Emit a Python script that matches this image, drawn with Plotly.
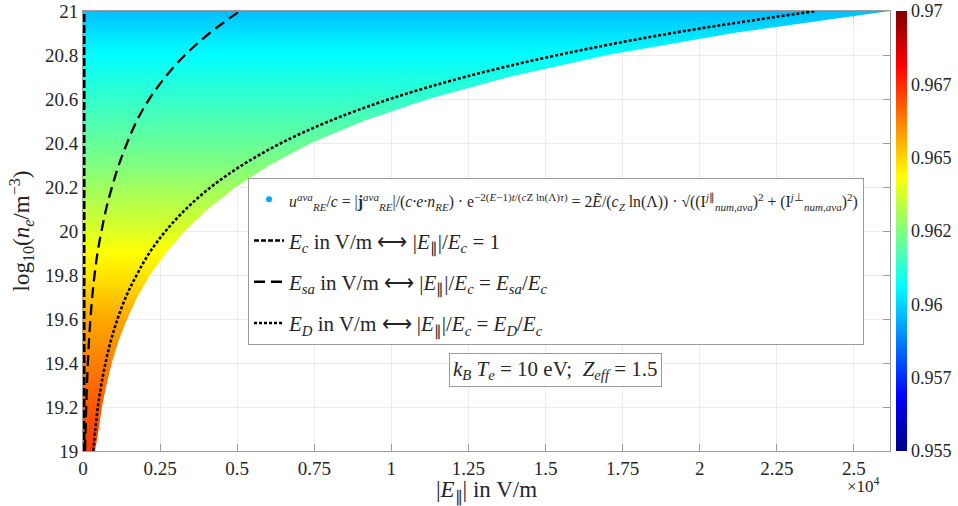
import plotly.graph_objects as go
from plotly.colors import sample_colorscale

# ---- data ----
Y_LEVELS = [19.0, 19.1, 19.2, 19.3, 19.4, 19.5, 19.6, 19.7, 19.8, 19.9, 20.0,
            20.1, 20.2, 20.3, 20.4, 20.5, 20.6, 20.7, 20.8, 20.9, 21.0]

# critical field E_c (V/m) - practically zero on this scale
E_C = [0.0058, 0.0072, 0.0091, 0.0114, 0.0141, 0.0176, 0.022, 0.027, 0.034, 0.042, 0.052,
       0.065, 0.081, 0.100, 0.126, 0.157, 0.195, 0.242, 0.301, 0.374, 0.465]
# E_sa (V/m)
E_SA = [64, 86, 103, 127, 157, 194, 241, 299, 374, 470, 600,
        750, 940, 1160, 1430, 1740, 2150, 2670, 3310, 4110, 5090]
# Dreicer field E_D (V/m)
E_D = [330, 400, 480, 590, 730, 900, 1120, 1390, 1740, 2150, 2680,
       3340, 4150, 5170, 6430, 8000, 9950, 12380, 15400, 19120, 23770]
# right edge of the coloured region (V/m)
E_EDGE = [390, 510, 610, 760, 930, 1150, 1430, 1760, 2170, 2690, 3300,
          4050, 4960, 6060, 7400, 9100, 11200, 13800, 17000, 21100, 26170]
# colour value u_RE/c along each row
Z_ROW = [0.9673, 0.96708, 0.96685, 0.96655, 0.96625, 0.96595, 0.96565, 0.9652, 0.96475, 0.96438, 0.96385,
         0.9634, 0.96295, 0.9625, 0.96213, 0.96175, 0.96138, 0.9610, 0.96063, 0.96018, 0.95965]

X_TICKS = [0, 2500, 5000, 7500, 10000, 12500, 15000, 17500, 20000, 22500, 25000]
X_TICK_TEXT = ["0", "0.25", "0.5", "0.75", "1", "1.25", "1.5", "1.75", "2", "2.25", "2.5"]
Y_TICKS = [19, 19.2, 19.4, 19.6, 19.8, 20, 20.2, 20.4, 20.6, 20.8, 21]
CB_TICKS = [0.955, 0.9575, 0.96, 0.9625, 0.965, 0.9675, 0.97]
CB_TEXT = ["0.955", "0.957", "0.96", "0.962", "0.965", "0.967", "0.97"]
Z_MIN, Z_MAX = 0.955, 0.97
X_MAX = 26170

JET = [[0.0, "rgb(0,0,135)"], [0.125, "rgb(0,0,255)"], [0.375, "rgb(0,255,255)"],
       [0.625, "rgb(255,255,0)"], [0.875, "rgb(255,0,0)"], [1.0, "rgb(128,0,0)"]]

FONT = "Liberation Serif"
TXT = "#262626"

fig = go.Figure()

# coloured region with vertical gradient
y0, y1 = Y_LEVELS[0], Y_LEVELS[-1]
grad_pos = [(y - y0) / (y1 - y0) for y in Y_LEVELS]
grad_col = sample_colorscale(JET, [(z - Z_MIN) / (Z_MAX - Z_MIN) for z in Z_ROW])
fig.add_trace(go.Scatter(
    x=[0.0] + E_EDGE + [0.0], y=[y0] + Y_LEVELS + [y1],
    mode="lines", fill="toself", line=dict(width=0),
    fillgradient=dict(type="vertical", colorscale=[[p, c] for p, c in zip(grad_pos, grad_col)],
                      start=y0, stop=y1),
    showlegend=False, hoverinfo="skip"))

# colorbar carrier
fig.add_trace(go.Scatter(
    x=[None], y=[None], mode="markers", showlegend=False, hoverinfo="skip",
    marker=dict(color=[Z_MIN], cmin=Z_MIN, cmax=Z_MAX, colorscale=JET, showscale=True,
                colorbar=dict(x=1.0074, xanchor="left", xpad=0, y=0.5, yanchor="middle", ypad=0,
                              len=1, lenmode="fraction", thickness=11, outlinewidth=0,
                              tickvals=CB_TICKS, ticktext=CB_TEXT, ticks="",
                              tickfont=dict(family=FONT, size=18, color=TXT)))))

S1 = '<span style="font-size:15.8px">'
# legend dot entry
fig.add_trace(go.Scatter(
    x=[None], y=[None], mode="markers", marker=dict(color="rgb(0,170,255)", size=6),
    legendgroup="g1",
    name=(S1 + "<i>u</i><sup><i>ava</i></sup><sub><i>RE</i></sub>/<i>c</i> = "
          "|<b>j</b><sup><i>ava</i></sup><sub><i>RE</i></sub>|/(<i>c·e·n</i><sub><i>RE</i></sub>) · "
          "e<sup>−2(<i>E</i>−1)<i>t</i>/(<i>c</i>Z ln(Λ)<i>τ</i>)</sup> = "
          "2<i>Ẽ</i>/(<i>c</i><sub><i>Z</i></sub> ln(Λ)) · "
          "√((I<sup><i>j</i>∥</sup><sub><i>num,ava</i></sub>)<sup>2</sup> + "
          "(I<sup><i>j</i>⊥</sup><sub><i>num,ava</i></sub>)<sup>2</sup>)</span>")))

# E_c: drawn line (no legend) + legend sample
fig.add_trace(go.Scatter(
    x=E_C, y=Y_LEVELS, mode="lines", line=dict(color="black", width=5, dash="8px,3px"),
    showlegend=False, hoverinfo="skip"))
fig.add_trace(go.Scatter(
    x=[None], y=[None], mode="lines", line=dict(color="black", width=2.4, dash="5px,2px"),
    legendgroup="g2",
    name="<i>E</i><sub><i>c</i></sub> in V/m ⟷ |<i>E</i><sub>∥</sub>|/<i>E</i><sub><i>c</i></sub> = 1"))
fig.add_trace(go.Scatter(
    x=E_SA, y=Y_LEVELS, mode="lines", line=dict(color="black", width=2.3, dash="11px,6px", shape="spline"),
    legendgroup="g3",
    name="<i>E</i><sub><i>sa</i></sub> in V/m ⟷ |<i>E</i><sub>∥</sub>|/<i>E</i><sub><i>c</i></sub> = <i>E</i><sub><i>sa</i></sub>/<i>E</i><sub><i>c</i></sub>"))
fig.add_trace(go.Scatter(
    x=E_D, y=Y_LEVELS, mode="lines", line=dict(color="black", width=2.6, dash="3px,2px", shape="spline"),
    legendgroup="g4",
    name="<i>E</i><sub><i>D</i></sub> in V/m ⟷ |<i>E</i><sub>∥</sub>|/<i>E</i><sub><i>c</i></sub> = <i>E</i><sub><i>D</i></sub>/<i>E</i><sub><i>c</i></sub>"))

axis_common = dict(showline=True, linecolor="#9a9a9a", linewidth=1, mirror="ticks",
                   ticks="inside", ticklen=7, tickcolor="#9a9a9a",
                   showgrid=True, gridcolor="#ececec", gridwidth=1, zeroline=False,
                   layer="below traces",
                   tickfont=dict(family=FONT, size=19, color=TXT))

fig.update_xaxes(range=[0, X_MAX], tickvals=X_TICKS, ticktext=X_TICK_TEXT,
                 title=dict(text="|<i>E</i><sub>∥</sub>| in V/m", font=dict(family=FONT, size=23, color=TXT),
                            standoff=4),
                 **axis_common)
fig.update_yaxes(range=[19, 21], tickvals=Y_TICKS,
                 title=dict(text="log<sub>10</sub>(<i>n<sub>e</sub></i>/m<sup>−3</sup>)",
                            font=dict(family=FONT, size=23, color=TXT), standoff=8),
                 **axis_common)

fig.add_annotation(x=0.585, y=0.184, xref="paper", yref="paper", showarrow=False,
                   xanchor="center", yanchor="middle",
                   text="<i>k</i><sub><i>B</i></sub> <i>T</i><sub><i>e</i></sub> = 10 eV;  <i>Z</i><sub><i>eff</i></sub> = 1.5",
                   font=dict(family=FONT, size=21, color=TXT),
                   bgcolor="white", bordercolor="#9a9a9a", borderwidth=1, borderpad=3)
fig.add_annotation(x=0.99, y=-0.077, xref="paper", yref="paper", showarrow=False, xanchor="right",
                   yanchor="middle", text="×10<sup>4</sup>",
                   font=dict(family=FONT, size=17, color=TXT))

fig.update_layout(
    width=958, height=506, margin=dict(l=83, r=68, t=11, b=55, autoexpand=False),
    paper_bgcolor="white", plot_bgcolor="white",
    font=dict(family=FONT, size=19, color=TXT),
    legend=dict(x=0.2045, y=0.6205, xanchor="left", yanchor="top", bgcolor="white",
                bordercolor="#9a9a9a", borderwidth=1, itemwidth=30, traceorder="grouped",
                tracegroupgap=11,
                font=dict(family=FONT, size=21, color=TXT)),
)

fig.write_html("out.html")
